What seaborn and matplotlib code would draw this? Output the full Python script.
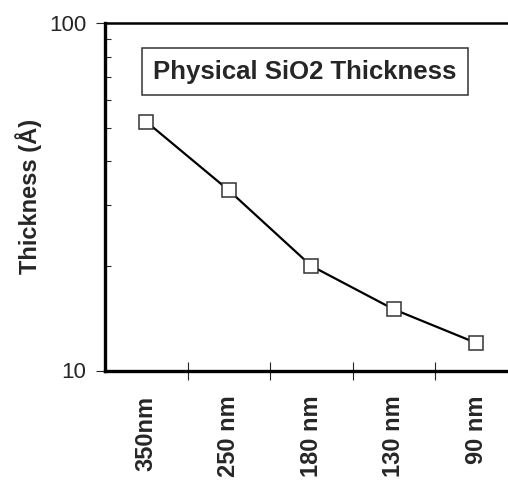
import numpy as np
import matplotlib
matplotlib.use('Agg')
import matplotlib.pyplot as plt
import seaborn as sns
from matplotlib.ticker import FixedLocator, NullFormatter, LogLocator

# 数据
nodes = ['350nm', '250 nm', '180 nm', '130 nm', '90 nm']
thickness = [52, 33, 20, 15, 12]

sns.set_style('white')
plt.rcParams['font.family'] = ['Liberation Sans', 'DejaVu Sans']

fig = plt.figure(figsize=(5.08, 4.8), dpi=100)
# 坐标轴右边超出图片范围
ax = fig.add_axes([105/508, 109.5/480, 412.5/508, 347.5/480])

pos = np.arange(len(nodes))
sns.lineplot(x=pos, y=thickness, ax=ax, color='black', linewidth=1.6,
             marker='s', markersize=10, markerfacecolor='white',
             markeredgecolor='#333333', markeredgewidth=1.1, sort=False)

ax.set_yscale('log')
ax.set_ylim(10, 100)
ax.set_xlim(-0.5, len(nodes) - 0.5)

# y轴刻度
ax.yaxis.set_major_locator(FixedLocator([10, 100]))
ax.set_yticklabels(['10', '100'])
ax.yaxis.set_minor_locator(LogLocator(base=10, subs=np.arange(2, 10)))
ax.yaxis.set_minor_formatter(NullFormatter())
ax.tick_params(axis='y', which='major', direction='out', length=6.5, width=0.8,
               labelsize=16, pad=7, left=True)
ax.tick_params(axis='y', which='minor', direction='in', length=4, width=0.8, left=True)

# x轴：刻度线在类别之间，标签在中间
ax.xaxis.set_major_locator(FixedLocator(pos[:-1] + 0.5))
ax.xaxis.set_major_formatter(NullFormatter())
ax.xaxis.set_minor_locator(FixedLocator(pos))
ax.set_xticks(pos, minor=True)
ax.set_xticklabels(nodes, minor=True, rotation=90, fontsize=17, fontweight='bold')
ax.tick_params(axis='x', which='major', direction='inout', length=13, width=0.8, bottom=True)
ax.tick_params(axis='x', which='minor', length=0, pad=18, bottom=True)

for side in ['left', 'bottom']:
    ax.spines[side].set_linewidth(2.4)
ax.spines['top'].set_linewidth(1.8)
ax.spines['right'].set_linewidth(1.8)
for s in ax.spines.values():
    s.set_color('black')

ax.set_ylabel('Thickness (Å)', fontsize=17, fontweight='bold', labelpad=5)
ax.set_xlabel('')

ax.text(0.485, 0.86, 'Physical SiO2 Thickness', transform=ax.transAxes,
        ha='center', va='center', fontsize=18.5, fontweight='bold',
        bbox=dict(boxstyle='square,pad=0.45', facecolor='white',
                  edgecolor='#333333', linewidth=1.1))

plt.savefig('out.png', dpi=100)
